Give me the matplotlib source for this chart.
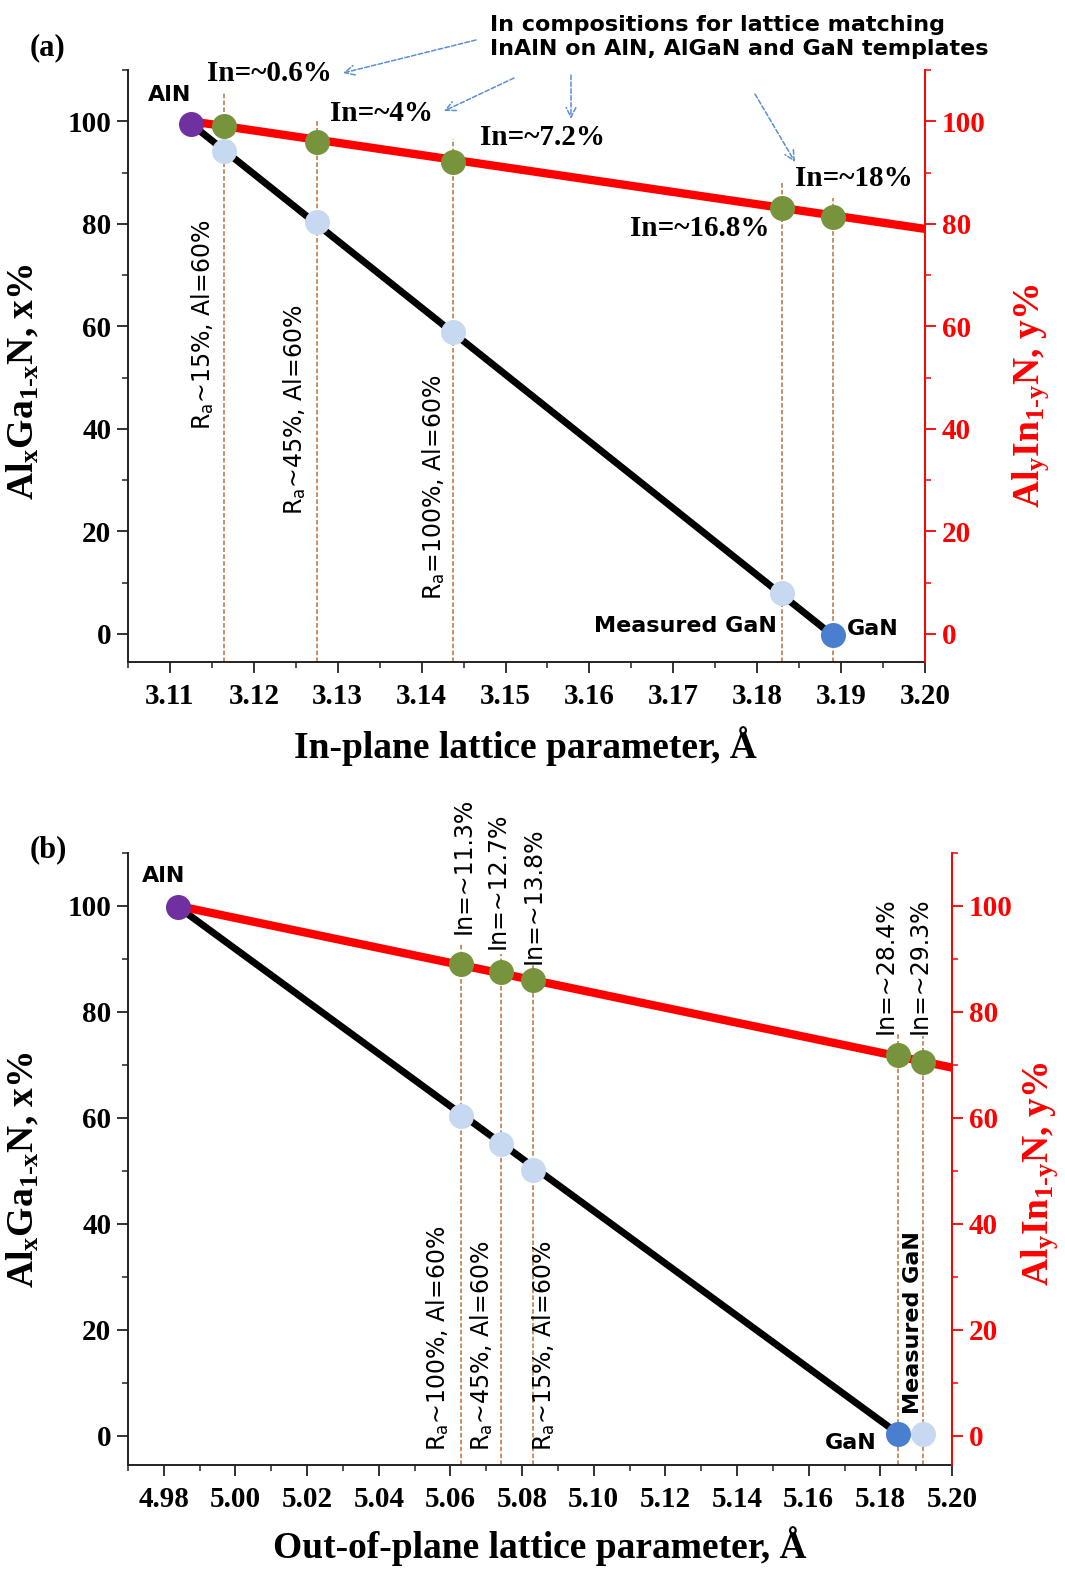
import matplotlib
matplotlib.use("Agg")
import matplotlib.pyplot as plt
from matplotlib.ticker import MultipleLocator

plt.rcParams["mathtext.fontset"] = "custom"
plt.rcParams["mathtext.rm"] = "Liberation Serif:bold"
plt.rcParams["mathtext.it"] = "Liberation Serif:bold"
plt.rcParams["mathtext.bf"] = "Liberation Serif:bold"
plt.rcParams["mathtext.sf"] = "DejaVu Sans"

SERIF = "Liberation Serif"
SANS = "DejaVu Sans"

# ---------------- data: panel (a) in-plane ----------------
a_aln = (3.1125, 99.5)
a_gan = (3.189, -0.3)
a_red_x = [3.1125, 3.200]
a_red_y = [100.0, 79.0]
a_match_x = [3.1165, 3.1275, 3.1437, 3.183, 3.189]
a_inaln_y = [99.1, 96.0, 92.0, 83.1, 81.4]
a_algan_x = [3.1165, 3.1275, 3.1437, 3.183]
a_algan_y = [94.2, 80.4, 58.9, 8.0]
a_guide_top = [105.5, 100.0, 96.5, 88.0, 85.0]
a_in_labels = ["In=~0.6%", "In=~4%", "In=~7.2%", "In=~18%", "In=~16.8%"]
a_ra_labels = [r"R$_\mathsf{a}$~15%, Al=60%", r"R$_\mathsf{a}$~45%, Al=60%",
               r"R$_\mathsf{a}$=100%, Al=60%"]

# ---------------- data: panel (b) out-of-plane ----------------
b_aln = (4.984, 99.8)
b_gan = (5.185, 0.4)
b_red_x = [4.984, 5.200]
b_red_y = [100.0, 69.5]
b_match_x = [5.063, 5.074, 5.083, 5.185, 5.192]
b_inaln_y = [89.0, 87.5, 86.0, 71.8, 70.6]
b_algan_x = [5.063, 5.074, 5.083, 5.192]
b_algan_y = [60.4, 55.1, 50.2, 0.4]
b_guide_top = [93.0, 91.0, 89.0, 76.0, 75.5]
b_in_labels = ["In=~11.3%", "In=~12.7%", "In=~13.8%", "In=~28.4%", "In=~29.3%"]
b_ra_labels = [r"R$_\mathsf{a}$~100%, Al=60%", r"R$_\mathsf{a}$~45%, Al=60%",
               r"R$_\mathsf{a}$~15%, Al=60%"]

C_RED = "#ff0000"
C_PURPLE = "#7030a0"
C_GAN = "#4a7fcf"
C_LIGHT = "#c6d9f0"
C_GREEN = "#77933c"
C_GUIDE = "#b8733a"
C_ARROW = "#5b8fd0"
MS = 18

W, H = 1065, 1571
fig = plt.figure(figsize=(W / 100, H / 100), dpi=100)
ax_a = fig.add_axes([128 / W, 1 - 662 / H, 797 / W, 592 / H])
ax_b = fig.add_axes([128 / W, 1 - 1465 / H, 824 / W, 612 / H])

YLIM = (-5.5, 110)


def style_axes(ax, xlim, xmaj, xmin, xlabel, xfmt):
    ax.set_xlim(*xlim)
    ax.set_ylim(*YLIM)
    ax.xaxis.set_major_locator(MultipleLocator(xmaj))
    ax.xaxis.set_minor_locator(MultipleLocator(xmin))
    ax.yaxis.set_major_locator(MultipleLocator(20))
    ax.yaxis.set_minor_locator(MultipleLocator(10))
    ax.xaxis.set_major_formatter(plt.FormatStrFormatter(xfmt))
    for s in ("top", "right"):
        ax.spines[s].set_visible(False)
    for s in ("left", "bottom"):
        ax.spines[s].set_linewidth(1.4)
        ax.spines[s].set_color("#222222")
    ax.tick_params(which="major", length=8, width=1.3, color="#222222")
    ax.tick_params(which="minor", length=4.5, width=1.1, color="#222222")
    ax.tick_params(axis="y", pad=4)
    ax.tick_params(axis="x", pad=7)
    for lab in ax.get_xticklabels() + ax.get_yticklabels():
        lab.set_fontfamily(SERIF)
        lab.set_fontweight("bold")
        lab.set_fontsize(21)
    ax.set_xlabel(xlabel, fontfamily=SERIF, fontweight="bold", fontsize=27)
    ax.set_ylabel(r"Al$_\mathrm{x}$Ga$_\mathrm{1\text{-}x}$N, x%", fontfamily=SERIF,
                  fontweight="bold", fontsize=27)

    ax2 = ax.twinx()
    ax2.set_ylim(*YLIM)
    ax2.yaxis.set_major_locator(MultipleLocator(20))
    ax2.yaxis.set_minor_locator(MultipleLocator(10))
    for s in ("top", "left", "bottom"):
        ax2.spines[s].set_visible(False)
    ax2.spines["right"].set_color(C_RED)
    ax2.spines["right"].set_linewidth(1.4)
    ax2.tick_params(which="major", length=8, width=1.3, color=C_RED, labelcolor=C_RED, pad=4)
    ax2.tick_params(which="minor", length=4.5, width=1.1, color=C_RED)
    for lab in ax2.get_yticklabels():
        lab.set_fontfamily(SERIF)
        lab.set_fontweight("bold")
        lab.set_fontsize(21)
    ax2.set_ylabel(r"Al$_\mathrm{y}$In$_\mathrm{1\text{-}y}$N, y%", fontfamily=SERIF,
                   fontweight="bold", fontsize=27, color=C_RED)
    return ax2


def draw_panel(ax, aln, gan, red_x, red_y, mx, my, lx, ly, tops):
    y0 = YLIM[0]
    for x, t in zip(mx, tops):
        ax.plot([x, x], [y0, t], color=C_GUIDE, lw=1.1, ls=(0, (3, 1.5)), zorder=1)
    ax.plot([aln[0], gan[0]], [aln[1], gan[1]], color="black", lw=5, zorder=2,
            solid_capstyle="butt")
    ax.plot(red_x, red_y, color=C_RED, lw=6, zorder=3, solid_capstyle="butt")
    ax.plot(lx, ly, "o", ms=MS, color=C_LIGHT, mec="none", zorder=4)
    ax.plot(mx, my, "o", ms=MS, color=C_GREEN, mec="none", zorder=4)
    ax.plot([gan[0]], [gan[1]], "o", ms=MS, color=C_GAN, mec="none", zorder=5)
    ax.plot([aln[0]], [aln[1]], "o", ms=MS, color=C_PURPLE, mec="none", zorder=5)


# ---------------- panel (a) ----------------
ax_a2 = style_axes(ax_a, (3.105, 3.20), 0.01, 0.005, "In-plane lattice parameter, Å", "%.2f")
ax_a.xaxis.set_label_coords(0.498, -0.108)
ax_a.yaxis.set_label_coords(-0.108, 0.473)
ax_a2.yaxis.set_label_coords(1.107, 0.45)
draw_panel(ax_a, a_aln, a_gan, a_red_x, a_red_y, a_match_x, a_inaln_y,
           a_algan_x, a_algan_y, a_guide_top)

sans_b = dict(fontfamily=SANS, fontweight="bold", fontsize=16, clip_on=False)
serif_b = dict(fontfamily=SERIF, fontweight="bold", fontsize=21, clip_on=False)
ax_a.text(3.1100, 105.1, "AlN", ha="center", va="center", **sans_b)
ax_a.text(3.1824, 1.5, "Measured GaN", ha="right", va="center", **sans_b)
ax_a.text(3.1907, 1.0, "GaN", ha="left", va="center", **sans_b)

a_in_pos = [(3.1144, 109.4, "left"), (3.1291, 101.6, "left"), (3.1470, 96.9, "left"),
            (3.1845, 88.9, "left"), (3.1815, 79.1, "right")]
for (x, y, ha), s in zip(a_in_pos, a_in_labels):
    ax_a.text(x, y, s, ha=ha, va="center", **serif_b)

rot_kw = dict(fontfamily=SANS, fontsize=17, rotation=90, ha="center", va="bottom", clip_on=False)
a_ra_pos = [(3.1139, 39.8), (3.1249, 23.2), (3.1414, 6.6)]
for (x, y), s in zip(a_ra_pos, a_ra_labels):
    ax_a.text(x, y, s, **rot_kw)

fig.text(30 / W, 1 - 48 / H, "(a)", fontfamily=SERIF, fontweight="bold", fontsize=22,
         ha="left", va="center")

fig.text(490 / W, 1 - 37 / H,
         "In compositions for lattice matching\nInAlN on AlN, AlGaN and GaN templates",
         fontfamily=SANS, fontweight="bold", fontsize=16, ha="left", va="center",
         linespacing=1.3)

arrows = [((476, 40), (343, 73)), ((514, 78), (444, 111)),
          ((571, 75), (571, 119)), ((755, 94), (795, 162))]
for (tx, ty), (hx, hy) in arrows:
    ax_a.annotate("", xy=(hx / W, 1 - hy / H), xycoords="figure fraction",
                  xytext=(tx / W, 1 - ty / H), textcoords="figure fraction",
                  arrowprops=dict(arrowstyle="->,head_length=0.7,head_width=0.35",
                                  color=C_ARROW, lw=1.1, ls=(0, (3, 1.5)),
                                  shrinkA=0, shrinkB=0))

# ---------------- panel (b) ----------------
ax_b2 = style_axes(ax_b, (4.97, 5.20), 0.02, 0.01, "Out-of-plane lattice parameter, Å", "%.2f")
ax_b.xaxis.set_label_coords(0.5, -0.1)
ax_b.yaxis.set_label_coords(-0.105, 0.482)
ax_b2.yaxis.set_label_coords(1.082, 0.475)
draw_panel(ax_b, b_aln, b_gan, b_red_x, b_red_y, b_match_x, b_inaln_y,
           b_algan_x, b_algan_y, b_guide_top)

ax_b.text(4.9800, 105.7, "AlN", ha="center", va="center", **sans_b)
ax_b.text(5.1790, -1.3, "GaN", ha="right", va="center", **sans_b)
ax_b.text(5.1890, 4.2, "Measured GaN", rotation=90, ha="center", va="bottom", **sans_b)

b_in_pos = [(5.0636, 94.7), (5.0733, 91.9), (5.0831, 89.0), (5.1815, 75.8), (5.1910, 75.8)]
for (x, y), s in zip(b_in_pos, b_in_labels):
    ax_b.text(x, y, s, **rot_kw)

b_ra_pos = [(5.0566, -2.8), (5.0689, -2.8), (5.0862, -2.8)]
for (x, y), s in zip(b_ra_pos, b_ra_labels):
    ax_b.text(x, y, s, **rot_kw)

fig.text(30 / W, 1 - 850 / H, "(b)", fontfamily=SERIF, fontweight="bold", fontsize=22,
         ha="left", va="center")

fig.savefig("out.png", dpi=100)
